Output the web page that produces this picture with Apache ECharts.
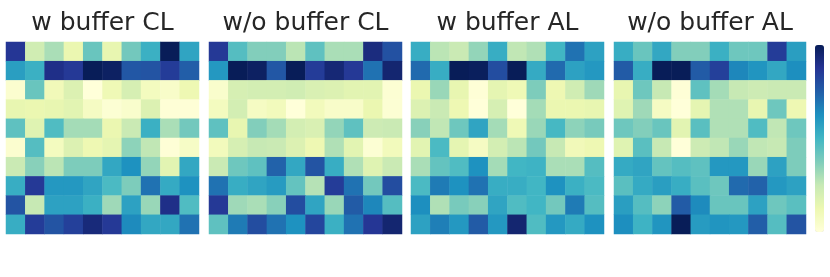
<!DOCTYPE html>
<html>
<head>
<meta charset="utf-8">
<script src="https://cdn.jsdelivr.net/npm/echarts@6/dist/echarts.min.js"></script>
<style>html,body{margin:0;padding:0;background:#fff}#c{width:830px;height:277px}</style>
</head>
<body>
<div id="c"></div>
<script>
var titles = ['w buffer CL', 'w/o buffer CL', 'w buffer AL', 'w/o buffer AL'];
var xCats = ['0','1','2','3','4','5','6','7','8','9'];
var yCats = ['0','1','2','3','4','5','6','7','8','9'];

var wBufferCL = [
  [0.87,0.22,0.30,0.13,0.42,0.14,0.40,0.52,1.00,0.56],
  [0.58,0.52,0.90,0.86,1.00,0.98,0.77,0.78,0.85,0.75],
  [0.03,0.42,0.10,0.18,0.00,0.11,0.20,0.08,0.05,0.12],
  [0.14,0.13,0.14,0.16,0.07,0.02,0.04,0.18,0.01,0.01],
  [0.44,0.17,0.47,0.31,0.31,0.13,0.24,0.52,0.30,0.40],
  [0.03,0.46,0.08,0.18,0.12,0.15,0.35,0.26,0.01,0.06],
  [0.24,0.36,0.27,0.38,0.38,0.55,0.62,0.34,0.16,0.55],
  [0.53,0.86,0.60,0.60,0.56,0.48,0.38,0.70,0.54,0.62],
  [0.78,0.25,0.57,0.57,0.52,0.32,0.57,0.33,0.90,0.47],
  [0.53,0.85,0.78,0.84,0.93,0.86,0.64,0.55,0.55,0.70]
];
var woBufferCL = [
  [0.86,0.46,0.37,0.37,0.27,0.44,0.30,0.30,0.92,0.79],
  [0.60,1.00,0.98,0.77,1.00,0.85,0.94,0.86,0.70,0.95],
  [0.04,0.20,0.21,0.21,0.22,0.19,0.18,0.16,0.16,0.02],
  [0.08,0.21,0.07,0.09,0.00,0.09,0.05,0.05,0.13,0.02],
  [0.44,0.14,0.37,0.31,0.21,0.19,0.34,0.44,0.23,0.24],
  [0.09,0.20,0.25,0.24,0.18,0.12,0.29,0.16,0.02,0.09],
  [0.24,0.41,0.44,0.74,0.55,0.78,0.53,0.29,0.17,0.24],
  [0.70,0.53,0.56,0.59,0.43,0.28,0.85,0.70,0.40,0.80],
  [0.86,0.32,0.30,0.36,0.80,0.56,0.33,0.76,0.65,0.46],
  [0.44,0.68,0.80,0.70,0.62,0.82,0.52,0.70,0.87,0.95]
];
var wBufferAL = [
  [0.53,0.27,0.24,0.34,0.53,0.26,0.29,0.50,0.70,0.57],
  [0.72,0.53,1.00,0.99,0.80,1.00,0.54,0.72,0.57,0.60],
  [0.13,0.33,0.14,0.01,0.15,0.11,0.38,0.12,0.22,0.32],
  [0.18,0.24,0.12,0.00,0.20,0.00,0.31,0.13,0.13,0.14],
  [0.36,0.26,0.41,0.56,0.31,0.11,0.33,0.49,0.35,0.39],
  [0.16,0.48,0.15,0.07,0.21,0.27,0.40,0.25,0.10,0.12],
  [0.30,0.43,0.47,0.62,0.31,0.50,0.51,0.30,0.30,0.46],
  [0.48,0.68,0.62,0.70,0.53,0.53,0.50,0.62,0.52,0.48],
  [0.63,0.29,0.39,0.36,0.56,0.47,0.50,0.40,0.68,0.46],
  [0.57,0.67,0.60,0.76,0.60,0.95,0.47,0.60,0.54,0.62]
];
var woBufferAL = [
  [0.53,0.42,0.55,0.37,0.37,0.52,0.41,0.41,0.85,0.58],
  [0.76,0.53,1.00,1.00,0.76,0.84,0.65,0.61,0.55,0.63],
  [0.14,0.41,0.25,0.01,0.44,0.31,0.25,0.23,0.24,0.24],
  [0.17,0.32,0.07,0.00,0.15,0.29,0.29,0.14,0.41,0.12],
  [0.41,0.37,0.42,0.16,0.45,0.29,0.29,0.47,0.26,0.41],
  [0.17,0.45,0.25,0.00,0.23,0.26,0.33,0.26,0.25,0.38],
  [0.54,0.56,0.43,0.46,0.44,0.60,0.60,0.33,0.57,0.38],
  [0.45,0.54,0.58,0.53,0.45,0.41,0.72,0.74,0.60,0.57],
  [0.58,0.46,0.35,0.76,0.64,0.42,0.42,0.57,0.41,0.45],
  [0.63,0.51,0.61,1.00,0.59,0.61,0.60,0.75,0.46,0.78]
];

var matrices = [wBufferCL, woBufferCL, wBufferAL, woBufferAL];
var grids = [
  {left: 6, top: 42, width: 193, height: 192},
  {left: 209, top: 42, width: 193, height: 192},
  {left: 411, top: 42, width: 193, height: 192},
  {left: 614, top: 42, width: 192, height: 192}
];

function toData(m) {
  var out = [];
  for (var r = 0; r < m.length; r++)
    for (var c = 0; c < m[r].length; c++)
      out.push([c, r, m[r][c]]);
  return out;
}

var xAxes = [], yAxes = [], series = [], graphics = [];
for (var i = 0; i < 4; i++) {
  xAxes.push({type: 'category', data: xCats, gridIndex: i, show: false});
  yAxes.push({type: 'category', data: yCats, gridIndex: i, show: false, inverse: true});
  series.push({
    type: 'heatmap', xAxisIndex: i, yAxisIndex: i, data: toData(matrices[i]),
    emphasis: {disabled: true}, progressive: 0, animation: false
  });
  graphics.push({
    type: 'text', x: grids[i].left + grids[i].width / 2, y: 23,
    style: {text: titles[i], font: '25px "DejaVu Sans"', fill: '#262626',
            textAlign: 'center', textVerticalAlign: 'middle'}
  });
}

var chart = echarts.init(document.getElementById('c'), null, {renderer: 'canvas'});
chart.setOption({
  animation: false,
  grid: grids,
  xAxis: xAxes,
  yAxis: yAxes,
  visualMap: [{
    type: 'continuous', min: 0, max: 1, seriesIndex: [0, 1, 2, 3],
    orient: 'vertical', calculable: false, hoverLink: false,
    left: 815, top: 45, itemWidth: 9, itemHeight: 187, padding: 0,
    text: ['', ''], textGap: 0, textStyle: {fontSize: 1, color: 'rgba(0,0,0,0)'},
    inRange: {color: ['#ffffd9','#edf8b1','#c7e9b4','#7fcdbb','#41b6c4','#1d91c0','#225ea8','#253494','#081d58']}
  }],
  graphic: graphics,
  series: series
});
</script>
</body>
</html>
